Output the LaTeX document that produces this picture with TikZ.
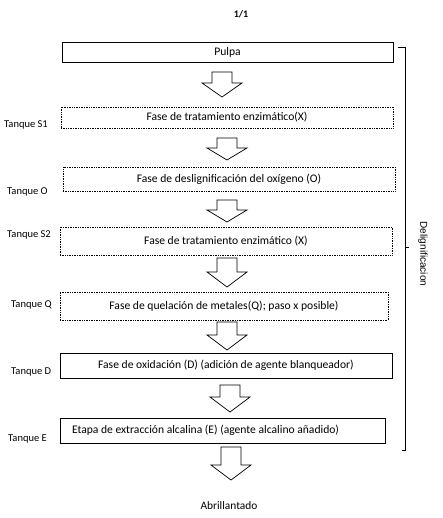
\documentclass[tikz,border=0pt]{standalone}
\usepackage{fontspec}
\setmainfont{Carlito}
\newfontfamily\arialfont{Liberation Sans}
\usetikzlibrary{positioning}

% block arrow: centre x, top, head base, tip
\newcommand{\flecha}[4]{%
  \draw[line width=0.7pt, line join=miter]
    (#1-10,#2) -- (#1+10,#2) -- (#1+10,#3) -- (#1+20,#3)
    -- (#1,#4) -- (#1-20,#3) -- (#1-10,#3) -- cycle;}

\begin{document}
\begin{tikzpicture}[x=1pt, y=-1pt,
    caja/.style={draw, rectangle, line width=0.7pt, inner sep=0pt,
      font=\fontsize{11.6}{13}\selectfont},
    punteada/.style={caja, densely dotted},
    etiqueta/.style={anchor=west, inner sep=0pt,
      font=\fontsize{10.5}{12}\selectfont}]
    \useasboundingbox (0,0) rectangle (442,518);

    % Page number
    \node[font=\bfseries\fontsize{10}{12}\selectfont] (pagina) at (241,14) {1/1};

    % Draw the stage boxes
    \node[caja, minimum width=331pt, minimum height=20pt] (pulpa) at (227.5,52) {Pulpa};
    \node[punteada, minimum width=332pt, minimum height=21pt] (s1) at (227,117.5) {Fase de tratamiento enzimático(X)};
    \node[punteada, minimum width=332pt, minimum height=24pt] (o) at (229,179) {Fase de deslignificación del oxígeno (O)};
    \node[punteada, minimum width=332pt, minimum height=28pt] (s2) at (226,241) {Fase de tratamiento enzimático (X)};
    \node[punteada, minimum width=328pt, minimum height=28pt] (q) at (224,306) {Fase de quelación de metales(Q); paso x posible)};
    \node[caja, minimum width=332pt, minimum height=25pt] (d) at (226,365.5) {Fase de oxidación (D) (adición de agente blanqueador)};
    \node[caja, text width=301pt, inner xsep=12pt, align=flush left, minimum height=25pt] (e) at (222.5,430.5) {Etapa de extracción alcalina (E) (agente alcalino añadido)};
    \node[font=\fontsize{11.4}{13}\selectfont] (abrillantado) at (229,506) {Abrillantado};

    % Draw the tank labels
    \node[etiqueta] (tS1) at (4,125) {Tanque S1};
    \node[etiqueta] (tO) at (7,192) {Tanque O};
    \node[etiqueta] (tS2) at (7,235) {Tanque S2};
    \node[etiqueta] (tQ) at (11,305) {Tanque Q};
    \node[etiqueta] (tD) at (11,372) {Tanque D};
    \node[etiqueta] (tE) at (8,439) {Tanque E};

    % Draw the block arrows
    \flecha{222}{72}{83}{97}
    \flecha{227}{138}{148}{160}
    \flecha{227}{200}{210}{222}
    \flecha{227}{258}{272}{287}
    \flecha{227}{322}{335}{350}
    \flecha{230}{385}{397}{412}
    \flecha{231}{447}{465}{480}

    % Draw the bracket
    \draw[line width=0.7pt] (398,47) -- (405,47) -- (405,450) -- (402,450);
    \draw[line width=0.7pt] (405,247) -- (409,247);
    \node[rotate=-90, font=\arialfont\fontsize{10}{12}\selectfont] (delig) at (423,254) {Delignificacion};
\end{tikzpicture}
\end{document}
